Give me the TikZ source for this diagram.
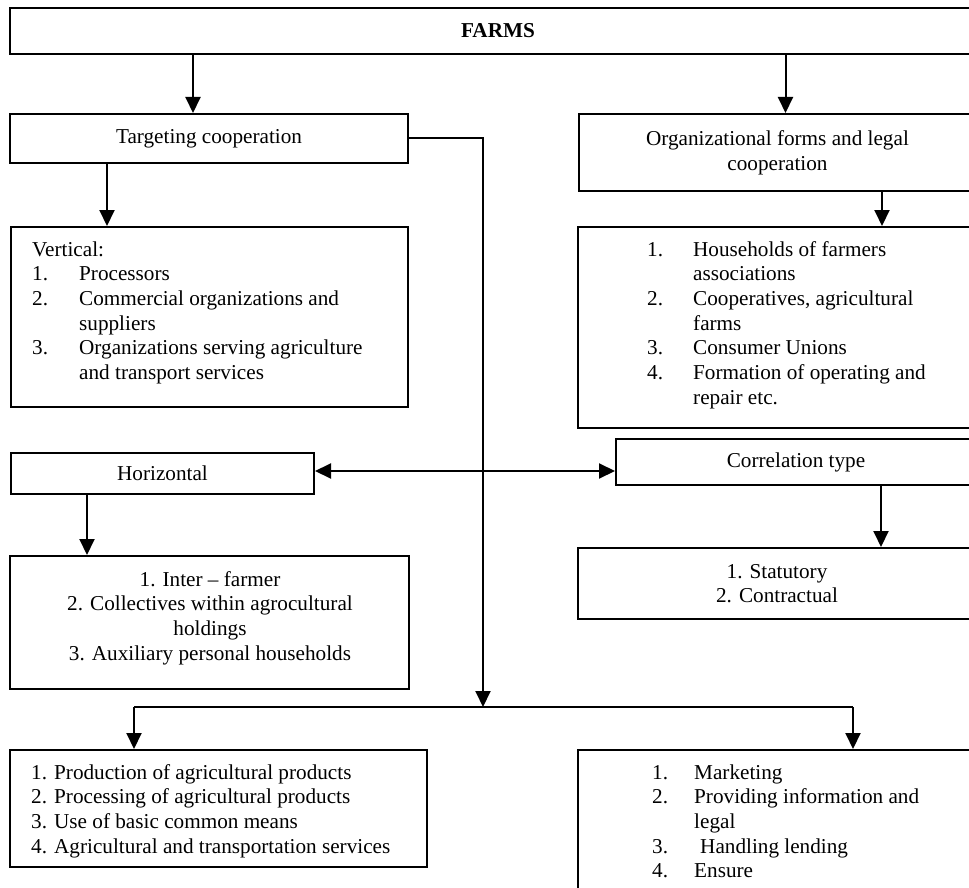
\documentclass[tikz,border=0pt]{standalone}
\usepackage{fontspec}
\setmainfont{Liberation Serif}
\usetikzlibrary{positioning,arrows.meta,calc}
\newcommand{\numlbl}[2][46pt]{\makebox[#1][l]{#2}}
\tikzset{
  box/.style={draw,line width=2pt,anchor=north west,inner sep=0pt,align=center},
  listtext/.style={anchor=north west,inner sep=0pt,align=left},
  arr/.style={line width=2pt,-{Triangle[length=16pt,width=15pt]}},
  dblarr/.style={line width=2pt,{Triangle[length=16pt,width=15pt]}-{Triangle[length=16pt,width=15pt]}},
  link/.style={line width=2pt}
}

\begin{document}
\begin{tikzpicture}[x=1pt,y=-1pt,font=\fontsize{21.2}{24.7}\selectfont]
\useasboundingbox (0,0) rectangle (969,888);
\clip (0,0) rectangle (969,888);
\fill [white] (0,0) rectangle (969,888);

% top level
\node (farms) [box,minimum width=976pt,minimum height=46pt] at (9,7) {\textbf{FARMS}};
\node (tgt) [box,minimum width=398pt,minimum height=49pt] at (9,113) {Targeting cooperation};
\node (org) [box,minimum width=397pt,minimum height=77pt] at (578,113) {Organizational forms and legal\\cooperation};

% second level
\node (vert) [box,minimum width=397pt,minimum height=180pt] at (10,226) {};
\node (verttxt) [listtext] at (32,238.7) {\strut Vertical:\\
  \numlbl[47pt]{1.}Processors\\
  \numlbl[47pt]{2.}Commercial organizations and\\
  \numlbl[47pt]{}suppliers\\
  \numlbl[47pt]{3.}Organizations serving agriculture\\
  \numlbl[47pt]{}and transport services};
\node (hh) [box,minimum width=398pt,minimum height=201pt] at (577,226) {};
\node (hhtxt) [listtext] at (647,238.7) {\strut\numlbl{1.}Households of farmers\\
  \numlbl{}associations\\
  \numlbl{2.}Cooperatives, agricultural\\
  \numlbl{}farms\\
  \numlbl{3.}Consumer Unions\\
  \numlbl{4.}Formation of operating and\\
  \numlbl{}repair etc.};

% third level
\node (horiz) [box,minimum width=303pt,minimum height=41pt] at (10,452) {Horizontal};
\node (corr) [box,minimum width=360pt,minimum height=46pt] at (615,438) {Correlation type};
\node (inter) [box,minimum width=399pt,minimum height=133pt] at (9,555) {};
\node (intertxt) [anchor=north,inner sep=0pt,align=center] at (210,568.7) {\strut 1. Inter -- farmer\\
  2. Collectives within agrocultural\\
  holdings\\
  3. Auxiliary personal households};
\node (stat) [box,minimum width=398pt,minimum height=71pt] at (577,547) {1. Statutory\\2. Contractual};

% bottom level
\node (prod) [box,minimum width=417pt,minimum height=117pt] at (9,749) {};
\node (prodtxt) [listtext] at (31,761.7) {\strut 1. Production of agricultural products\\
  2. Processing of agricultural products\\
  3. Use of basic common means\\
  4. Agricultural and transportation services};
\node (mkt) [box,minimum width=398pt,minimum height=160pt] at (577,749) {};
\node (mkttxt) [listtext] at (652,761.7) {\strut\numlbl[42pt]{1.}Marketing\\
  \numlbl[42pt]{2.}Providing information and\\
  \numlbl[42pt]{}legal\\
  \numlbl[42pt]{3.}\hspace{6pt}Handling lending\\
  \numlbl[42pt]{4.}Ensure};

% arrow entry points
\coordinate (tgtin) at ([xshift=-16pt]tgt.north);
\coordinate (orgin) at ([xshift=8pt]org.north);
\coordinate (vertin) at ([xshift=-102.5pt]vert.north);
\coordinate (hhin) at ([xshift=105pt]hh.north);
\coordinate (interin) at ([xshift=-122.5pt]inter.north);
\coordinate (statin) at ([xshift=104pt]stat.north);
\coordinate (prodin) at ([xshift=-84.5pt]prod.north);
\coordinate (mktin) at ([xshift=76pt]mkt.north);
\coordinate (split) at (483,707);
\coordinate (dbl) at ([yshift=2.5pt]horiz.east);

\draw [arr] (tgtin |- farms.south) -- (tgtin);
\draw [arr] (orgin |- farms.south) -- (orgin);
\draw [arr] (vertin |- tgt.south) -- (vertin);
\draw [arr] (hhin |- org.south) -- (hhin);
\draw [arr] (interin |- horiz.south) -- (interin);
\draw [arr] (statin |- corr.south) -- (statin);
\draw [dblarr] (dbl) -- (dbl -| corr.west);
\draw [arr] (tgt.east) -| (split);
\draw [link] (prodin |- split) -- (mktin |- split);
\draw [arr] (prodin |- split) -- (prodin);
\draw [arr] (mktin |- split) -- (mktin);
\end{tikzpicture}
\end{document}
